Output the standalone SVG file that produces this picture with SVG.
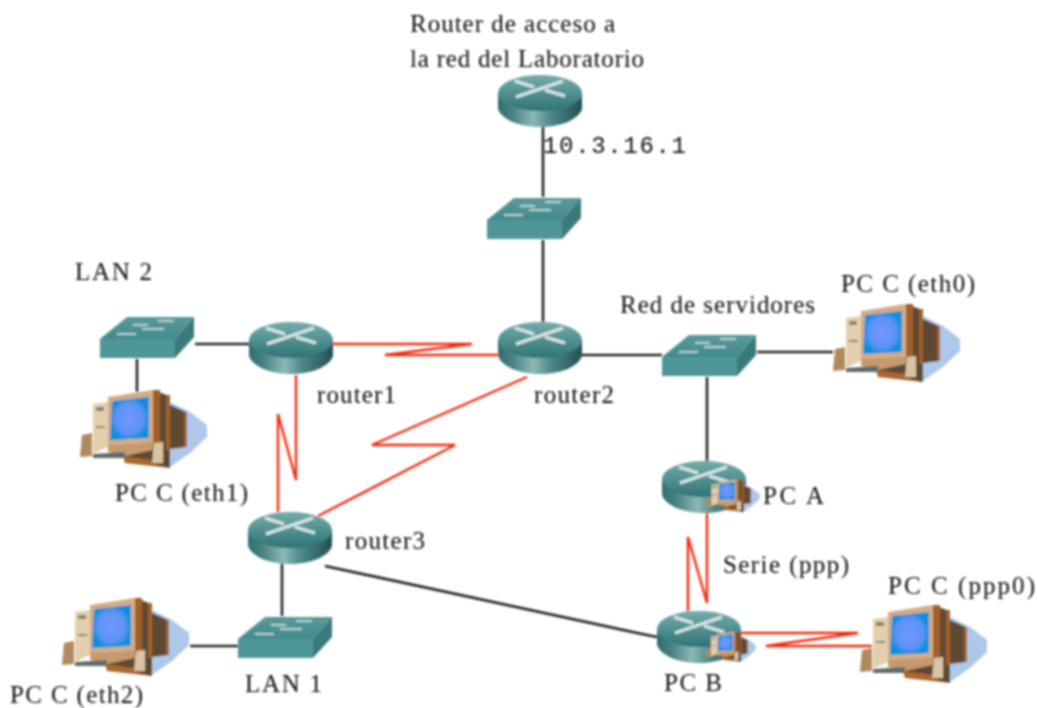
<svg xmlns="http://www.w3.org/2000/svg" xmlns:xlink="http://www.w3.org/1999/xlink" width="1037" height="708" viewBox="0 0 1037 708">
<style>
text{font-family:"Liberation Serif","Times New Roman",serif;font-size:25px;fill:#111}
.mono{font-family:"Liberation Mono","Courier New",monospace;font-size:24px}
.k{fill:none;stroke:#222;stroke-width:2.6}
.r{fill:none;stroke:#f22c10;stroke-width:2.4;stroke-linejoin:miter}
.w{fill:none;stroke:#d8e8e6;stroke-width:3}
</style>
<defs>
<filter id="soft" x="-5%" y="-5%" width="110%" height="110%"><feGaussianBlur stdDeviation="0.8"/></filter>
<linearGradient id="rb" x1="0" x2="1" y1="0" y2="0"><stop offset="0" stop-color="#2f6d70"/><stop offset=".18" stop-color="#4b8385"/><stop offset=".42" stop-color="#8db8b6"/><stop offset=".62" stop-color="#4f8a8c"/><stop offset="1" stop-color="#234f52"/></linearGradient>
<linearGradient id="rt" x1="0" x2="0" y1="0" y2="1"><stop offset="0" stop-color="#76acac"/><stop offset="1" stop-color="#2f7476"/></linearGradient>
<linearGradient id="st" x1="0" x2="0" y1="0" y2="1"><stop offset="0" stop-color="#5a9a9b"/><stop offset="1" stop-color="#438a8c"/></linearGradient>
<radialGradient id="scr"><stop offset="0" stop-color="#6f96ff"/><stop offset=".7" stop-color="#5e92f6"/><stop offset="1" stop-color="#0f8fdc"/></radialGradient>
<symbol id="router" width="86" height="56" viewBox="0 0 86 56" overflow="visible">
<path d="M0 18V34C4 45 22 52 42 52S80 45 84 34V18Z" fill="url(#rb)"/>
<ellipse cx="42" cy="18" rx="42" ry="18" fill="url(#rt)"/>
<path class="w" d="M17 6L36 12M65 6L18 22M47 15L67 21"/>
</symbol>
<symbol id="switch" width="96" height="44" viewBox="0 0 96 44" overflow="visible">
<path d="M27 1H94L75 23H0Z" fill="url(#st)"/>
<path d="M0 23H75V42H0Z" fill="#4f9698"/>
<path d="M75 23L94 1V21L75 42Z" fill="#3a7a7c"/>
<path d="M33 9H48M58 5H74M17 18H36M42 13H64" stroke="#b4d2d0" stroke-width="2.2" fill="none"/>
</symbol>
<symbol id="pc" width="128" height="80" viewBox="0 0 128 80" overflow="visible">
<path d="M90 12L110 22L127 35V47L110 63L90 77Z" fill="#aec8ea"/>
<path d="M73 0L87 5L88 14L106 22V57L90 59V78L44 70V50Z" fill="#5f4a30"/>
<path d="M73 0H80V55H73ZM86 5H90V60H86ZM104 22H107V57H104Z" fill="#a0602a"/>
<path d="M28 7L73 0V53L28 57Z" fill="#d4ac84"/>
<path d="M32 11L69 7V48L30 50Z" fill="url(#scr)"/>
<path d="M13 14L28 12V57L13 64Z" fill="#e3cfac"/>
<path d="M16 17H24V21H16ZM16 36H25V38H16Z" fill="#8a8272"/>
<path d="M28 55L73 53V60L45 66L28 62Z" fill="#c69a6e"/>
<path d="M13 64L45 62V68L13 68Z" fill="#5d6a70"/>
<path d="M2 45L12 43V66L0 67Z" fill="#b08a5e"/>
<path d="M74 53L83 52V73L72 73Z" fill="#d9c5a4"/>
<path d="M43 66L72 70V73L90 78L45 73Z" fill="#a9672f"/>
</symbol>
</defs>
<g filter="url(#soft)">
<g id="connectors">
<path class="k" d="M543 127V197M543 240V322M195 344H249M137 359V392M582 355H662M757 352H833M707 377V462M282 563V616M190 646H238M325 566L642 634L657 637"/>
<path class="r" d="M333 344H472L385 355H498"/>
<path class="r" d="M296 375V480L278 414V512"/>
<path class="r" d="M527 377L372 445H455L318 516"/>
<path class="r" d="M707 512V603L688 537V612"/>
<path class="r" d="M740 633H858L766 646H872"/>
</g>
<g id="router-acceso"><use href="#router" x="498" y="75"/>
<text x="410" y="32" textLength="205">Router de acceso a</text>
<text x="410" y="67" textLength="234">la red del Laboratorio</text>
<text class="mono" x="543" y="153" textLength="143">10.3.16.1</text></g>
<g id="switch-lab"><use href="#switch" x="487" y="197"/></g>
<g id="switch-lan2"><use href="#switch" x="100" y="316"/><text x="75" y="280" textLength="77">LAN 2</text></g>
<g id="router1"><use href="#router" x="249" y="322"/><text x="317" y="403" textLength="79">router1</text></g>
<g id="router2"><use href="#router" x="498" y="322"/><text x="534" y="403" textLength="80">router2</text></g>
<g id="router3"><use href="#router" x="248" y="512"/><text x="345" y="549" textLength="80">router3</text></g>
<g id="switch-servidores"><use href="#switch" x="662" y="334"/><text x="620" y="313" textLength="195">Red de servidores</text></g>
<g id="pc-eth0"><use href="#pc" x="833" y="304"/><text x="841" y="292" textLength="134">PC C (eth0)</text></g>
<g id="pc-eth1"><use href="#pc" x="80" y="390"/><text x="115" y="501" textLength="133">PC C (eth1)</text></g>
<g id="pc-eth2"><use href="#pc" x="62" y="598"/><text x="10" y="703" textLength="133">PC C (eth2)</text></g>
<g id="switch-lan1"><use href="#switch" x="238" y="616"/><text x="245" y="692" textLength="77">LAN 1</text></g>
<g id="pc-a"><use href="#router" x="662" y="461"/><use href="#pc" x="706" y="479" width="54" height="34"/><text x="763" y="504" textLength="61">PC A</text></g>
<g id="pc-b"><use href="#router" x="657" y="611"/><use href="#pc" x="706" y="631" width="50" height="32"/><text x="664" y="691" textLength="58">PC B</text></g>
<g id="pc-ppp0"><use href="#pc" x="860" y="605"/><text x="888" y="594" textLength="147">PC C (ppp0)</text></g>
<text id="label-serie" x="723" y="573" textLength="126">Serie (ppp)</text>
</g>
</svg>
